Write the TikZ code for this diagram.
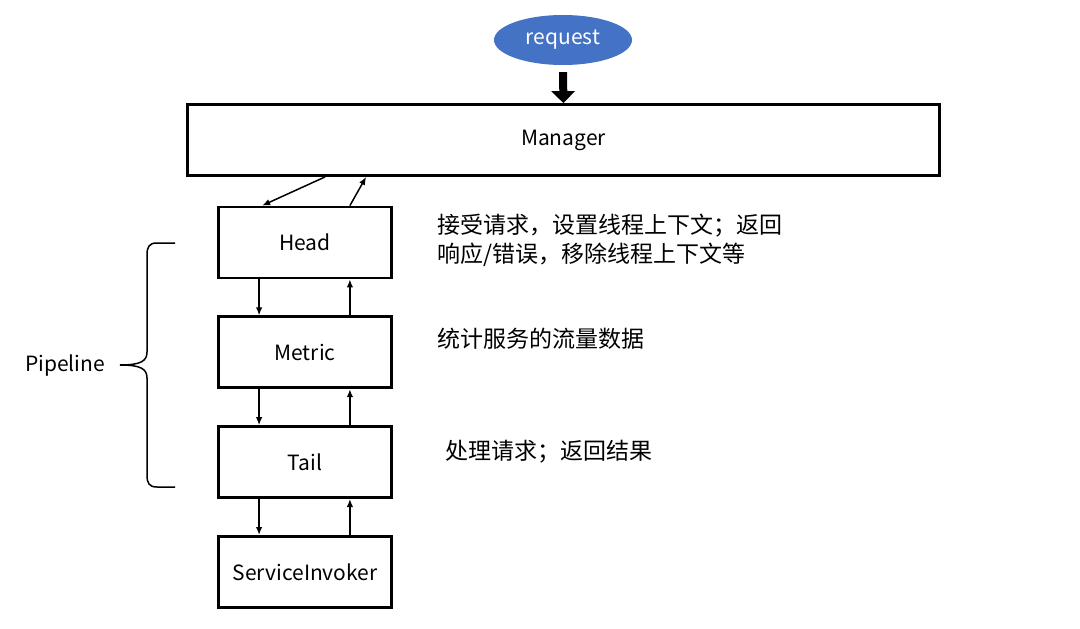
\documentclass[tikz,border=0pt]{standalone}
\usepackage{fontspec}
\setmainfont{Noto Sans CJK SC}
\usetikzlibrary{shapes.geometric,arrows.meta,positioning}
\definecolor{reqblue}{HTML}{4472C4}

\begin{document}
\begin{tikzpicture}[
    x=1pt, y=-1pt,
    every node/.style={font=\fontsize{21}{25}\selectfont},
    stage/.style={draw, line width=2.8pt, minimum width=173pt, minimum height=71pt, inner sep=0pt},
    flow/.style={-{Latex[length=8pt,width=6.5pt]}, line width=1.5pt},
    bigflow/.style={-{Triangle[length=12pt,width=23pt]}, line width=8pt, shorten <=7pt},
    note/.style={anchor=west, align=left, inner sep=0pt, font=\fontsize{23}{29}\selectfont}
    ]
  \useasboundingbox (0,0) rectangle (1080,629);
  % request and manager
  \node [ellipse, fill=reqblue, text=white, minimum width=138pt, minimum height=50pt, inner sep=0pt] (request) at (563,40) {request};
  \node [draw, line width=2.8pt, minimum width=752pt, minimum height=71pt, inner sep=0pt] (manager) at (563.5,140) {Manager};
  \draw [bigflow] (request) -- (manager);
  % pipeline stages
  \node [stage] (head) at (305,242.5) {Head};
  \node [stage, below=36pt of head] (metric) {Metric};
  \node [stage, below=36pt of metric] (tail) {Tail};
  \node [stage, below=36pt of tail] (invoker) {ServiceInvoker};
  \draw [flow] ([xshift=139pt]manager.south west) -- ([xshift=45pt]head.north west);
  \draw [flow] ([xshift=-43pt]head.north east) -- ([xshift=180pt]manager.south west);
  \foreach \a/\b in {head/metric, metric/tail, tail/invoker} {
    \draw [flow] ([xshift=42pt]\a.south west) -- ([xshift=42pt]\b.north west);
    \draw [flow] ([xshift=-43pt]\b.north east) -- ([xshift=-43pt]\a.south east);
  }
  % brace
  \draw [line width=1.5pt] (175,243) -- (157,243) .. controls (149,243) and (147,247) .. (147,255)
    -- (147,352) .. controls (147,361) and (141,365) .. (120,365)
    .. controls (141,365) and (147,369) .. (147,378)
    -- (147,475) .. controls (147,483) and (149,487) .. (157,487) -- (175,487);
  \node (pipeline) at (65,366) {Pipeline};
  % notes
  \node [note] (headnote) at (437,240) {接受请求，设置线程上下文；返回\\响应/错误，移除线程上下文等};
  \node [note] (metricnote) at (437,339) {统计服务的流量数据};
  \node [note] (tailnote) at (445,452) {处理请求；返回结果};
\end{tikzpicture}
\end{document}
